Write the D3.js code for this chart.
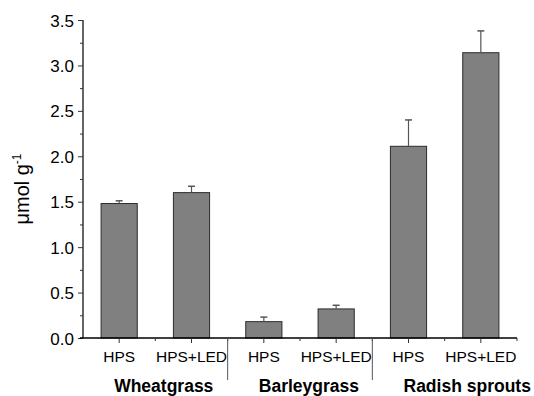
<!DOCTYPE html>
<html>
<head>
<meta charset="utf-8">
<script src="https://cdn.jsdelivr.net/npm/d3@7"></script>
<style>
  body { margin:0; background:#fff; }
  svg text { font-family: Arial, "Liberation Sans", sans-serif; fill:#000; }
</style>
</head>
<body>
<div id="chart"></div>
<script>
/* ===================== DATA ===================== */
const categories = ["HPS","HPS+LED","HPS","HPS+LED","HPS","HPS+LED"];
const groups     = ["Wheatgrass","Barleygrass","Radish sprouts"];
const values     = [1.48, 1.60, 0.18, 0.32, 2.11, 3.14];
const errors     = [0.03, 0.07, 0.05, 0.04, 0.29, 0.24];
const yTicks     = [0, 0.5, 1.0, 1.5, 2.0, 2.5, 3.0, 3.5];

/* ===================== LAYOUT ===================== */
const W = 534, H = 396;
const M = { t:20, r:17, b:58, l:83 };
const w = W - M.l - M.r, h = H - M.t - M.b;

const svg = d3.select("#chart").append("svg").attr("width",W).attr("height",H);
const g = svg.append("g").attr("transform",`translate(${M.l},${M.t})`);

const idx = d3.range(categories.length);
const x = d3.scaleBand().domain(idx).range([0,w]).padding(0);
const y = d3.scaleLinear().domain([0,3.5]).range([h,0]);

// bars
g.selectAll("rect.bar").data(idx).join("rect")
  .attr("class","bar")
  .attr("x", i => x(i) + x.bandwidth()*0.25)
  .attr("y", i => y(values[i]))
  .attr("width", x.bandwidth()*0.5)
  .attr("height", i => y(0) - y(values[i]))
  .attr("fill","#808080").attr("stroke","#2b2b2b").attr("stroke-width",1);

// error bars (upper only)
const eb = g.selectAll("g.err").data(idx).join("g").attr("class","err");
eb.append("line")
  .attr("x1", i => x(i)+x.bandwidth()/2).attr("x2", i => x(i)+x.bandwidth()/2)
  .attr("y1", i => y(values[i])).attr("y2", i => y(values[i]+errors[i]))
  .attr("stroke","#555").attr("stroke-width",1.2);
eb.append("line")
  .attr("x1", i => x(i)+x.bandwidth()/2-3.5).attr("x2", i => x(i)+x.bandwidth()/2+3.5)
  .attr("y1", i => y(values[i]+errors[i])).attr("y2", i => y(values[i]+errors[i]))
  .attr("stroke","#555").attr("stroke-width",1.5);

// y axis
const yMinor = d3.range(0.25, 3.5, 0.5);
g.append("g").call(d3.axisLeft(y).tickValues(yMinor).tickSize(3).tickFormat(""))
  .call(s => s.select(".domain").remove())
  .selectAll("line").attr("stroke","#333");
const ya = g.append("g").call(d3.axisLeft(y).tickValues(yTicks).tickSize(5).tickPadding(4).tickFormat(d3.format(".1f")));
ya.select(".domain").attr("stroke","#333").attr("stroke-width",1.5).attr("d",`M0,${h}V0`);
ya.selectAll("line").attr("stroke","#333");
ya.selectAll("text").style("font-size","17px").attr("fill","#000").attr("dy","0.36em");

// x axis
const xa = g.append("g").attr("transform",`translate(0,${h})`);
xa.append("line").attr("x1",-3).attr("x2",w).attr("stroke","#000").attr("stroke-width",1.5);
const halfTicks = d3.range(1, categories.length+1).map(i => x.step()*i);
xa.selectAll("line.minor").data(halfTicks).join("line").attr("class","minor")
  .attr("x1",d=>d).attr("x2",d=>d).attr("y1",0).attr("y2",3).attr("stroke","#333");
xa.selectAll("line.major").data(idx).join("line").attr("class","major")
  .attr("x1",i=>x(i)+x.bandwidth()/2).attr("x2",i=>x(i)+x.bandwidth()/2)
  .attr("y1",0).attr("y2",5).attr("stroke","#333");
xa.selectAll("text.cat").data(idx).join("text").attr("class","cat")
  .attr("x",i=>x(i)+x.bandwidth()/2).attr("y",24)
  .attr("text-anchor","middle").style("font-size","15.5px")
  .text(i=>categories[i]);

// group separators
xa.selectAll("line.sep").data([2,4]).join("line").attr("class","sep")
  .attr("x1",i=>x(i)).attr("x2",i=>x(i)).attr("y1",0).attr("y2",42)
  .attr("stroke","#555").attr("stroke-width",1);

// group labels
xa.selectAll("text.grp").data(groups).join("text").attr("class","grp")
  .attr("x",(d,k)=>x(k*2)+x.bandwidth()/2-5).attr("y",54)
  .attr("text-anchor","start").style("font-size","17.5px").style("font-weight","bold")
  .text(d=>d);

// y label
const yl = svg.append("text").attr("transform",`translate(29,189) rotate(-90)`)
  .attr("text-anchor","middle").style("font-size","20px");
yl.append("tspan").text("μmol g");
yl.append("tspan").attr("dy",-8).style("font-size","12px").text("-1");
</script>
</body>
</html>
